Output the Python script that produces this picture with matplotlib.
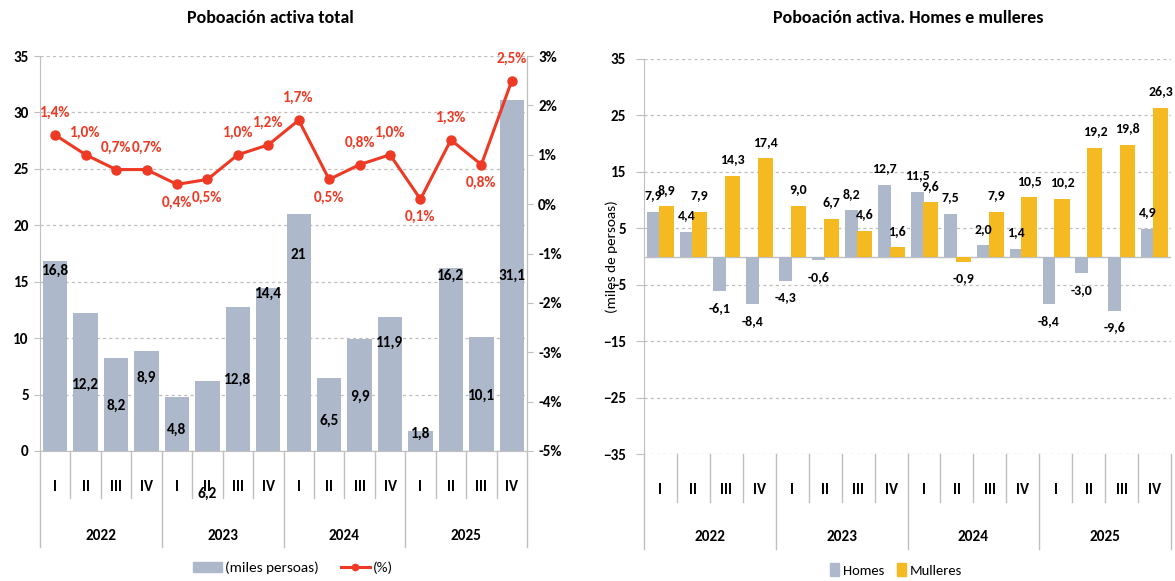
import matplotlib
matplotlib.use("Agg")
import matplotlib.pyplot as plt
from matplotlib import font_manager
from matplotlib.transforms import blended_transform_factory
from matplotlib.lines import Line2D
from matplotlib.patches import Patch

# ---------------- data ----------------
quarters = ["I", "II", "III", "IV"] * 4
years = ["2022", "2023", "2024", "2025"]
total_miles = [16.8, 12.2, 8.2, 8.9, 4.8, 6.2, 12.8, 14.4, 21, 6.5, 9.9, 11.9, 1.8, 16.2, 10.1, 31.1]
total_pct = [1.4, 1.0, 0.7, 0.7, 0.4, 0.5, 1.0, 1.2, 1.7, 0.5, 0.8, 1.0, 0.1, 1.3, 0.8, 2.5]
homes = [7.9, 4.4, -6.1, -8.4, -4.3, -0.6, 8.2, 12.7, 11.5, 7.5, 2.0, 1.4, -8.4, -3.0, -9.6, 4.9]
mulleres = [8.9, 7.9, 14.3, 17.4, 9.0, 6.7, 4.6, 1.6, 9.6, -0.9, 7.9, 10.5, 10.2, 19.2, 19.8, 26.3]

# ---------------- label layout (positions only) ----------------
bar_label_y = [16.0, 5.9, 4.0, 6.5, 1.9, -3.8, 6.3, 13.9, 17.4, 2.7, 4.8, 9.6, 1.5, 15.5, 4.9, 15.5]
pct_label_above = [True, True, True, True, False, False, True, True, True, False, True, True, False, True, False, True]

# ---------------- style ----------------
avail = {f.name for f in font_manager.fontManager.ttflist}
FONT = "DejaVu Sans"
for cand in ["Carlito", "Liberation Sans Narrow", "Open Sans", "DejaVu Sans"]:
    if cand in avail:
        FONT = cand
        break
plt.rcParams["font.family"] = [FONT, "DejaVu Sans"]

BAR_GREY = "#ADB9CA"
GOLD = "#F5B921"
RED = "#EE3A24"
AX_GREY = "#BFBFBF"
GRID_GREY = "#BFBFBF"
FS = 11

W, H = 1175, 581
fig = plt.figure(figsize=(W / 100, H / 100), dpi=100)


def rect(l, t, r, b):
    return [l / W, 1 - b / H, (r - l) / W, (b - t) / H]


def cat_axis(ax, q_lab, q_sep, y_lab, y_sep):
    tr = blended_transform_factory(ax.transData, ax.transAxes)
    for i in range(17):
        yb = y_sep if i % 4 == 0 else q_sep
        ax.plot([i - 0.5, i - 0.5], [0, yb], transform=tr, color=AX_GREY, lw=1.0, clip_on=False)
    for i, q in enumerate(quarters):
        ax.text(i, q_lab, q, transform=tr, ha="center", va="center", fontsize=FS, fontweight="bold")
    for k, yr in enumerate(years):
        ax.text(4 * k + 1.5, y_lab, yr, transform=tr, ha="center", va="center", fontsize=FS, fontweight="bold")


x = list(range(16))

# ================= left chart =================
ax1 = fig.add_axes(rect(40, 56, 527, 451))
ax1.bar(x, total_miles, width=0.8, color=BAR_GREY, zorder=2)
ax1.set_xlim(-0.5, 15.5)
ax1.set_ylim(0, 35)
ax1.set_yticks(range(0, 36, 5))
ax1.grid(axis="y", linestyle=(0, (2.5, 2.5)), color=GRID_GREY, lw=0.9)
ax1.set_axisbelow(True)
ax1.set_xticks([])
ax1.spines["top"].set_visible(False)
for s in ["left", "right", "bottom"]:
    ax1.spines[s].set_color(AX_GREY)
ax1.tick_params(axis="y", length=4, color=AX_GREY, labelsize=FS, pad=4)
for t in ax1.get_yticklabels():
    t.set_fontweight("bold")
for i, v in enumerate(total_miles):
    ax1.text(i, bar_label_y[i], f"{v:g}".replace(".", ","), ha="center", va="center",
             fontsize=FS, fontweight="bold", zorder=5, clip_on=False)
cat_axis(ax1, -0.091, -0.119, -0.215, -0.243)

ax1b = ax1.twinx()
ax1b.set_ylim(-5, 3)
ax1b.set_yticks(range(-5, 4))
ax1b.set_yticklabels([f"{t}%" for t in range(-5, 4)])
ax1b.plot(x, total_pct, color=RED, lw=2.2, marker="o", ms=6.5, zorder=4)
for s in ["top", "left", "bottom"]:
    ax1b.spines[s].set_visible(False)
ax1b.spines["right"].set_color(AX_GREY)
ax1b.tick_params(axis="y", length=4, color=AX_GREY, labelsize=FS, pad=4)
for t in ax1b.get_yticklabels():
    t.set_fontweight("bold")
for i, v in enumerate(total_pct):
    off = 16 if pct_label_above[i] else -13
    ax1b.annotate(f"{v:.1f}%".replace(".", ","), (i, v), xytext=(0, off), textcoords="offset points",
                  ha="center", va="center", color=RED, fontsize=FS, fontweight="bold")

fig.text(270 / W, 1 - 18 / H, "Poboación activa total", ha="center", va="center",
         fontsize=13, fontweight="bold")
fig.legend([Patch(color=BAR_GREY), Line2D([], [], color=RED, lw=2.2, marker="o", ms=4.5)],
           ["(miles persoas)", "(%)"], loc="center", bbox_to_anchor=(293 / W, 1 - 568 / H),
           ncol=2, frameon=False, fontsize=FS, handlelength=1.9, handletextpad=0.25, columnspacing=1.4)

# ================= right chart =================
ax2 = fig.add_axes(rect(644, 59, 1171, 454))
ax2.bar([i - 0.205 for i in x], homes, width=0.39, color=BAR_GREY, zorder=2)
ax2.bar([i + 0.19 for i in x], mulleres, width=0.46, color=GOLD, zorder=3)
ax2.set_xlim(-0.5, 15.5)
ax2.set_ylim(-35, 35)
ax2.set_yticks(range(-35, 36, 10))
ax2.grid(axis="y", linestyle=(0, (2.5, 2.5)), color=GRID_GREY, lw=0.9)
ax2.set_axisbelow(True)
ax2.set_xticks([])
ax2.axhline(0, color=AX_GREY, lw=1.0, zorder=1)
for s in ["top", "right", "bottom"]:
    ax2.spines[s].set_visible(False)
ax2.spines["left"].set_color(AX_GREY)
ax2.tick_params(axis="y", length=6, color=AX_GREY, labelsize=FS, pad=7)
for t in ax2.get_yticklabels():
    t.set_fontweight("bold")
for i in x:
    for dx, v in ((-0.205, homes[i]), (0.19, mulleres[i])):
        off = 12 if v >= 0 else -12
        ax2.annotate(f"{v:.1f}".replace(".", ","), (i + dx, v), xytext=(0, off), textcoords="offset points",
                     ha="center", va="center", fontsize=10, fontweight="bold", zorder=6,
                     annotation_clip=False)
cat_axis(ax2, -0.091, -0.122, -0.21, -0.24)

fig.text(612 / W, 1 - 257 / H, "(miles de persoas)", rotation=90, ha="center", va="center", fontsize=FS)
fig.text(908 / W, 1 - 18 / H, "Poboación activa. Homes e mulleres", ha="center", va="center",
         fontsize=13, fontweight="bold")
fig.legend([Patch(color=BAR_GREY), Patch(color=GOLD)], ["Homes", "Mulleres"], loc="center",
           bbox_to_anchor=(896 / W, 1 - 570 / H), ncol=2, frameon=False, fontsize=10.5,
           handlelength=0.6, handleheight=0.9, handletextpad=0.25, columnspacing=0.9)

fig.savefig("out.png", dpi=100)
